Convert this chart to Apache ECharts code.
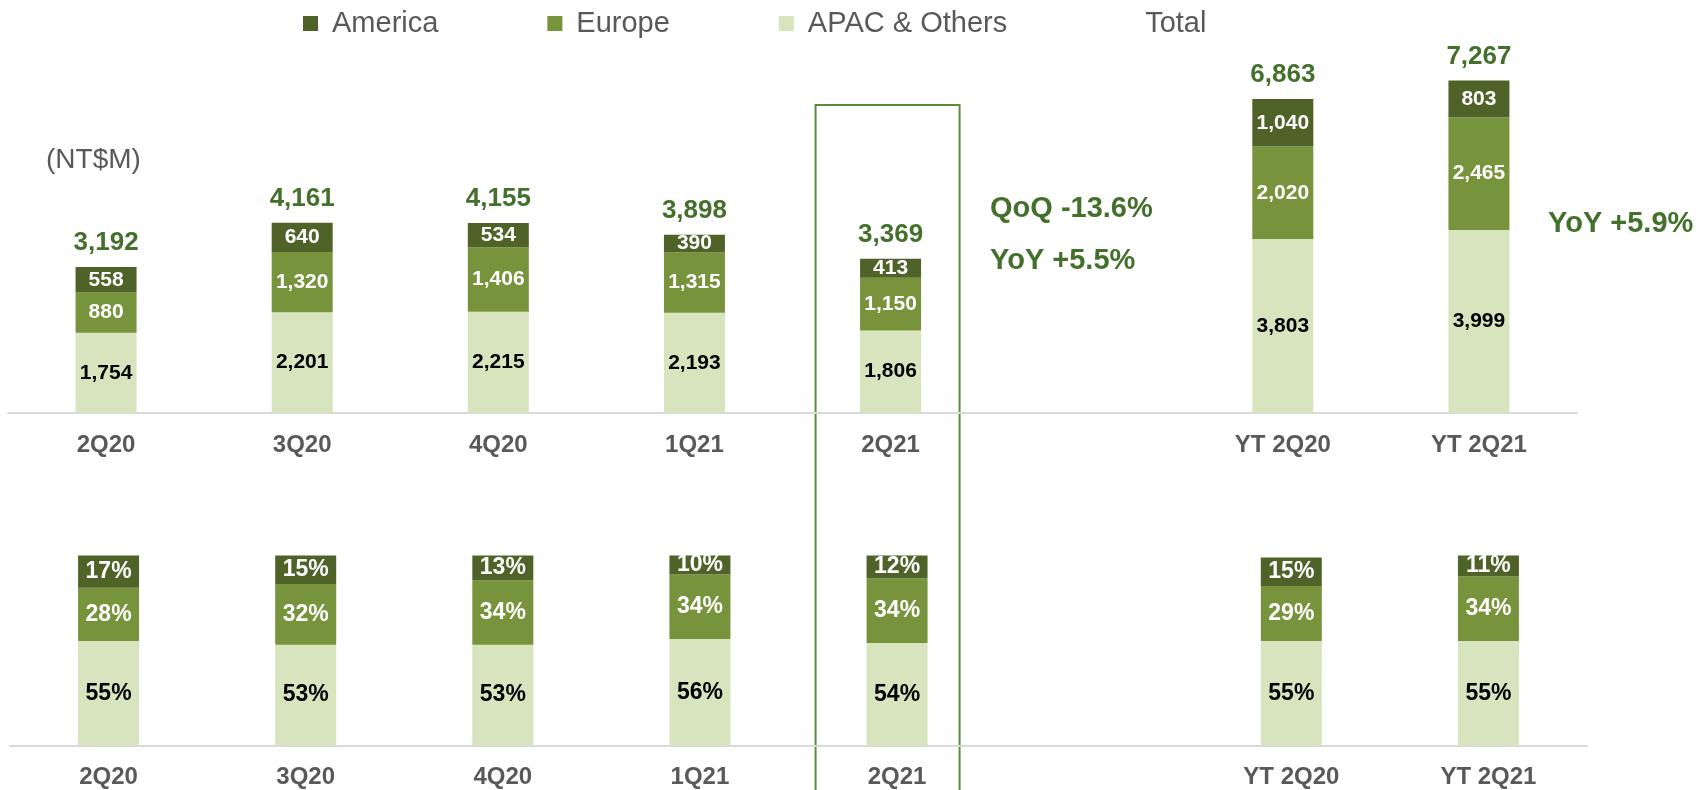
<!DOCTYPE html>
<html>
<head>
<meta charset="utf-8">
<script src="https://cdn.jsdelivr.net/npm/echarts@6/dist/echarts.min.js"></script>
<style>
  html, body { margin: 0; padding: 0; background: #fff; }
  #chart { width: 1700px; height: 790px; }
</style>
</head>
<body>
<div id="chart"></div>
<script>
// Revenue by region (NT$M) and share of revenue, per quarter and year-to-date
const categories = ['2Q20', '3Q20', '4Q20', '1Q21', '2Q21', '', 'YT 2Q20', 'YT 2Q21'];
const america = [558, 640, 534, 390, 413, null, 1040, 803];
const europe = [880, 1320, 1406, 1315, 1150, null, 2020, 2465];
const apac = [1754, 2201, 2215, 2193, 1806, null, 3803, 3999];
const totals = [3192, 4161, 4155, 3898, 3369, null, 6863, 7267];

const americaPct = [17, 15, 13, 10, 12, null, 15, 11];
const europePct = [28, 32, 34, 34, 34, null, 29, 34];
const apacPct = [55, 53, 53, 56, 54, null, 55, 55];

const COLORS = { america: '#4f6228', europe: '#77933c', apac: '#d7e4bd' };
const GREEN_TEXT = '#43702b';
const FONT = 'Liberation Sans, Arial, sans-serif';

const chart = echarts.init(document.getElementById('chart'));

const fmt = v => (v == null ? '' : Number(v).toLocaleString('en-US'));

// helper for one stacked segment
function segment(name, data, color, labelColor, grid, isPct) {
  return {
    name: name,
    type: 'bar',
    stack: grid === 0 ? 'amount' : 'share',
    xAxisIndex: grid,
    yAxisIndex: grid,
    barWidth: 61,
    data: data,
    itemStyle: { color: color },
    label: {
      show: true,
      position: 'inside',
      color: labelColor,
      fontWeight: 'bold',
      fontSize: isPct ? 23 : 21,
      fontFamily: FONT,
      formatter: p => (p.value == null ? '' : isPct ? p.value + '%' : fmt(p.value))
    },
    emphasis: { disabled: true }
  };
}

const xAxisCommon = {
  type: 'category',
  data: categories,
  axisTick: { show: false },
  axisLine: { lineStyle: { color: '#d9d9d9', width: 2 } },
  axisLabel: {
    color: '#595959',
    fontWeight: 'bold',
    fontSize: 24,
    fontFamily: FONT,
    margin: 20,
    interval: 0
  }
};

const option = {
  animation: false,
  textStyle: { fontFamily: FONT },
  legend: {
    data: [
      'America',
      'Europe',
      'APAC & Others',
      { name: 'Total', itemStyle: { opacity: 0 } }
    ],
    left: 303,
    top: 9,
    padding: 0,
    itemWidth: 15,
    itemHeight: 15,
    itemGap: 109,
    icon: 'rect',
    textStyle: {
      color: '#595959',
      fontSize: 29,
      fontFamily: FONT,
      padding: [0, 0, 0, 9]
    },
    selectedMode: false
  },
  grid: [
    { left: 8, right: 123, top: 47, height: 366 },
    { left: 10, right: 113, top: 555.5, height: 190 }
  ],
  xAxis: [
    Object.assign({ gridIndex: 0 }, xAxisCommon),
    Object.assign({ gridIndex: 1 }, xAxisCommon)
  ],
  yAxis: [
    { gridIndex: 0, type: 'value', min: 0, max: 8000, show: false, splitLine: { show: false } },
    { gridIndex: 1, type: 'value', min: 0, max: 100, show: false, splitLine: { show: false } }
  ],
  series: [
    segment('APAC & Others', apac, COLORS.apac, '#000', 0, false),
    segment('Europe', europe, COLORS.europe, '#fff', 0, false),
    segment('America', america, COLORS.america, '#fff', 0, false),
    {
      name: 'Total',
      type: 'scatter',
      xAxisIndex: 0,
      yAxisIndex: 0,
      data: totals,
      symbolSize: 0,
      itemStyle: { color: 'rgba(0,0,0,0)', opacity: 1 },
      label: {
        show: true,
        position: 'top',
        distance: 11,
        color: GREEN_TEXT,
        opacity: 1,
        fontWeight: 'bold',
        fontSize: 26,
        fontFamily: FONT,
        formatter: p => fmt(p.value)
      },
      emphasis: { disabled: true }
    },
    segment('APAC & Others', apacPct, COLORS.apac, '#000', 1, true),
    segment('Europe', europePct, COLORS.europe, '#fff', 1, true),
    segment('America', americaPct, COLORS.america, '#fff', 1, true)
  ],
  graphic: [
    {
      type: 'text', left: 46, top: 146,
      style: { text: '(NT$M)', fill: '#595959', fontSize: 28, fontFamily: FONT }
    },
    {
      type: 'text', x: 990, y: 209,
      style: { text: 'QoQ -13.6%', fill: GREEN_TEXT, fontSize: 29, fontWeight: 'bold', fontFamily: FONT, verticalAlign: 'middle' }
    },
    {
      type: 'text', x: 990, y: 261,
      style: { text: 'YoY +5.5%', fill: GREEN_TEXT, fontSize: 29, fontWeight: 'bold', fontFamily: FONT, verticalAlign: 'middle' }
    },
    {
      type: 'text', x: 1548, y: 224,
      style: { text: 'YoY +5.9%', fill: GREEN_TEXT, fontSize: 29, fontWeight: 'bold', fontFamily: FONT, verticalAlign: 'middle' }
    }
  ]
};

chart.setOption(option);

// frame around the latest quarter, placed from the category axis
const cx = chart.convertToPixel({ xAxisIndex: 0 }, '2Q21');
chart.setOption({
  graphic: [
    {
      id: 'highlight',
      type: 'rect',
      shape: { x: cx - 75, y: 105, width: 144, height: 720 },
      style: { fill: 'none', stroke: '#5b8a3a', lineWidth: 2 },
      silent: true
    }
  ]
});
</script>
</body>
</html>
